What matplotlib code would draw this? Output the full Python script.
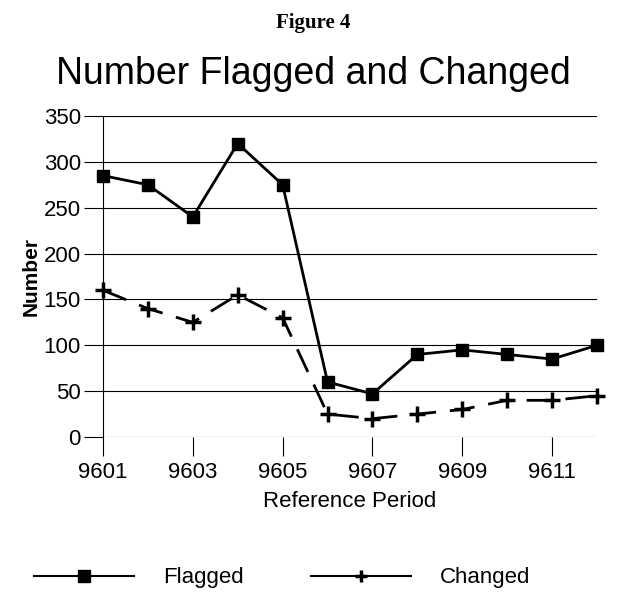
import numpy as np
import matplotlib.pyplot as plt
from matplotlib.lines import Line2D

# monthly reference periods and counts
periods = [9601, 9602, 9603, 9604, 9605, 9606, 9607, 9608, 9609, 9610, 9611, 9612]
flagged = [285, 275, 240, 320, 275, 60, 47, 90, 95, 90, 85, 100]
changed = [160, 140, 125, 155, 130, 25, 20, 25, 30, 40, 40, 45]
yticks = [0, 50, 100, 150, 200, 250, 300, 350]
xticks = [9601, 9603, 9605, 9607, 9609, 9611]

plt.rcParams['font.family'] = ['Liberation Sans', 'DejaVu Sans']

fig = plt.figure(figsize=(6.27, 5.94), dpi=100)
ax = fig.add_axes([103/627, 1 - 437/594, (597-103)/627, (437-116)/594])

ax.plot(periods, flagged, color='black', lw=2, marker='s', ms=9, label='Flagged',
        clip_on=False, zorder=3)
ax.plot(periods, changed, color='black', lw=2, marker='+', ms=11, mew=2.5,
        dashes=(9, 5), label='Changed', clip_on=False, zorder=3)

ax.set_xlim(9601, 9612)
ax.set_ylim(0, 350)
ax.set_yticks(yticks)
ax.set_xticks(xticks)
ax.set_xticklabels([str(x) for x in xticks])
ax.yaxis.grid(True, color='black', lw=0.8)
ax.set_axisbelow(True)
for s in ['top', 'right', 'bottom']:
    ax.spines[s].set_visible(False)
ax.spines['left'].set_linewidth(0.8)
ax.tick_params(axis='y', length=14, width=0.8, labelsize=16, pad=2)
ax.tick_params(axis='x', length=14, width=0.8, labelsize=16, pad=4)

ax.set_xlabel('Reference Period', fontsize=16, labelpad=6)
ax.set_ylabel('Number', fontsize=15, fontweight='bold', labelpad=2)

fig.text(0.5, 1 - 23/594, 'Figure 4', ha='center', va='center',
         fontsize=15, fontweight='bold', family='Liberation Serif')
fig.text(0.5, 1 - 74/594, 'Number Flagged and Changed', ha='center', va='center',
         fontsize=27)

handles = [Line2D([], [], color='black', lw=1.5, marker='s', ms=8),
           Line2D([], [], color='black', lw=1.5, marker='+', ms=9, mew=2.5)]
fig.legend(handles, ['Flagged', 'Changed'], loc='center', bbox_to_anchor=(0.45, 1 - 578/594),
           ncol=2, frameon=False, fontsize=16, handlelength=4.5, handletextpad=1.3,
           columnspacing=3)

fig.savefig('out.png', dpi=100)
